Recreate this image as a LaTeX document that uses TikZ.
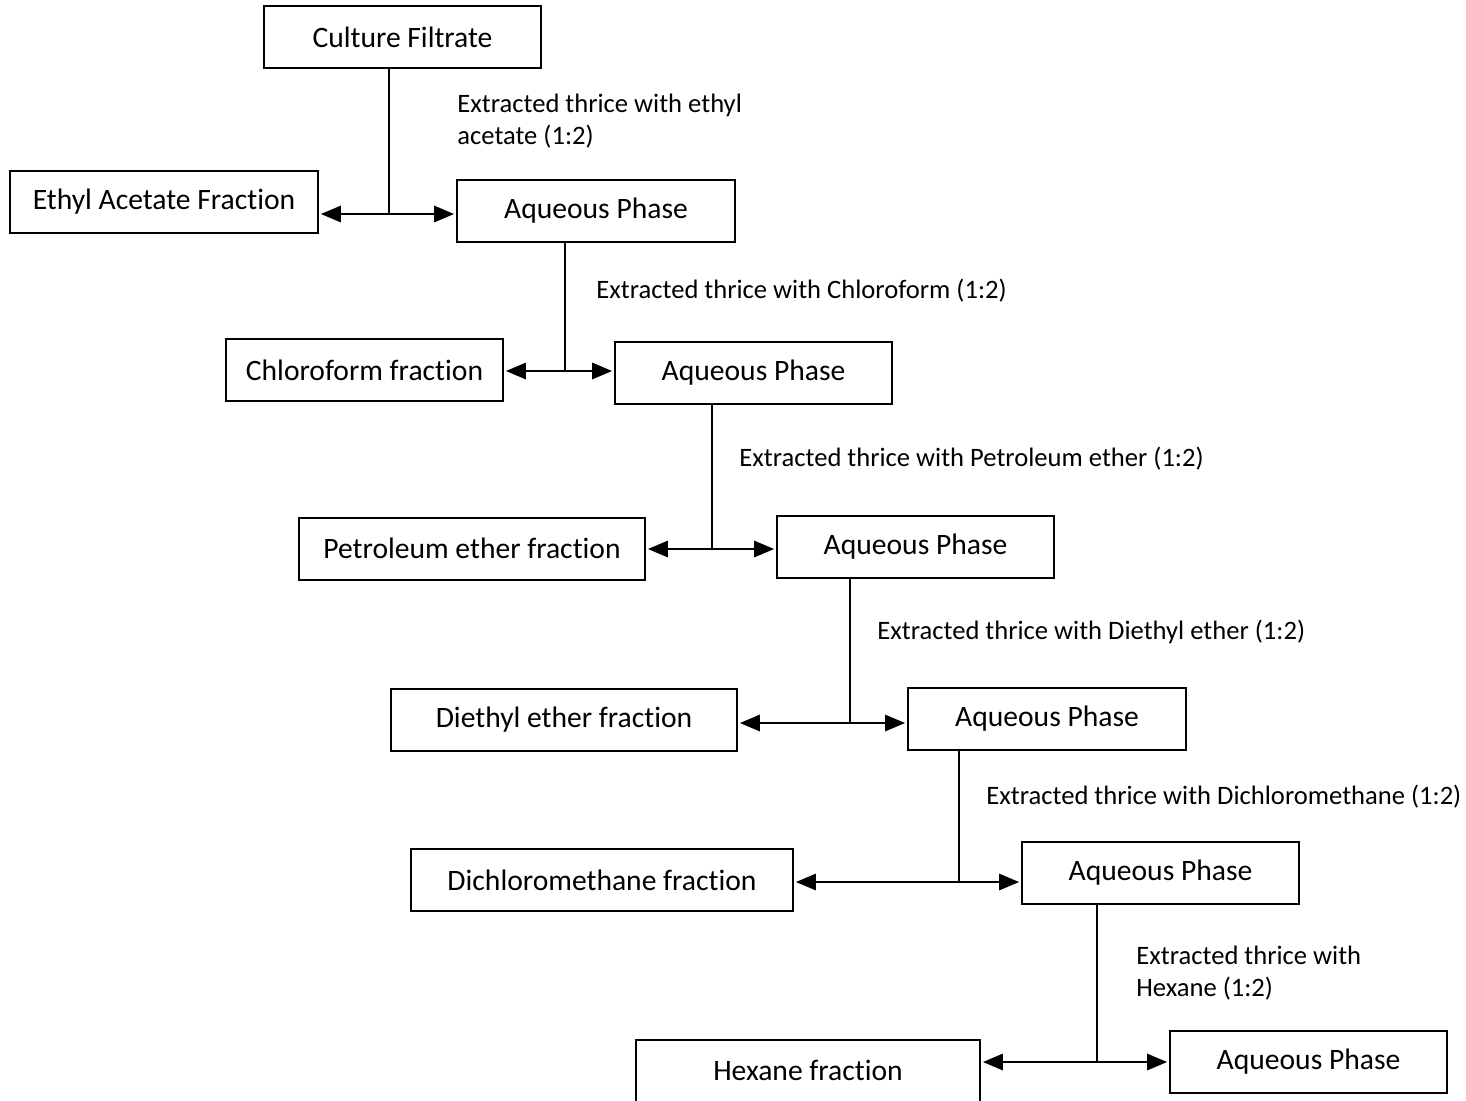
\documentclass[tikz,border=0pt]{standalone}
\usepackage{fontspec}
\setmainfont{Carlito}[Ligatures=NoCommon]
\usetikzlibrary{arrows}

\begin{document}
\begin{tikzpicture}[>=triangle 45,x=0.5pt,y=-0.5pt,
		box/.style={draw,line width=1pt,inner sep=0pt,minimum height=31pt,font=\fontsize{14.8}{17}\selectfont},
		note/.style={anchor=west,align=left,inner sep=0pt,font=\fontsize{13.3}{16}\selectfont},
		link/.style={line width=0.8pt},
		split/.style={->,line width=1.3pt,shorten >=1pt}]
	\useasboundingbox (0,0) rectangle (1466,1100);

	% boxes
	\node[box,minimum width=138.5pt] (cf) at (402.5,37) {Culture Filtrate};
	\node[box,minimum width=154pt] (ea) at (164,201.5) {Ethyl Acetate Fraction};
	\node[box,minimum width=139pt] (aq1) at (596,211) {Aqueous Phase};
	\node[box,minimum width=138.5pt] (cl) at (364.5,370) {Chloroform fraction};
	\node[box,minimum width=138.5pt] (aq2) at (753.5,372.5) {Aqueous Phase};
	\node[box,minimum width=173pt] (pe) at (472,548.5) {Petroleum ether fraction};
	\node[box,minimum width=138.5pt] (aq3) at (915.5,547) {Aqueous Phase};
	\node[box,minimum width=173pt] (de) at (564,720) {Diethyl ether fraction};
	\node[box,minimum width=139pt] (aq4) at (1047,719) {Aqueous Phase};
	\node[box,minimum width=191pt] (dcm) at (602,880) {Dichloromethane fraction};
	\node[box,minimum width=138.5pt] (aq5) at (1160.5,873) {Aqueous Phase};
	\node[box,minimum width=172pt] (hx) at (808,1070.5) {Hexane fraction};
	\node[box,minimum width=138.5pt] (aq6) at (1308.5,1062) {Aqueous Phase};

	% split points
	\coordinate (j1) at (389,214);
	\coordinate (j2) at (565,371);
	\coordinate (j3) at (712,549);
	\coordinate (j4) at (850,723);
	\coordinate (j5) at (959,882);
	\coordinate (j6) at (1097,1062);

	\draw[link] (cf.south -| j1) -- (j1);
	\draw[link] (aq1.south -| j2) -- (j2);
	\draw[link] (aq2.south -| j3) -- (j3);
	\draw[link] (aq3.south -| j4) -- (j4);
	\draw[link] (aq4.south -| j5) -- (j5);
	\draw[link] (aq5.south -| j6) -- (j6);

	\draw[split] (j1) -- (ea.east |- j1);
	\draw[split] (j1) -- (aq1.west |- j1);
	\draw[split] (j2) -- (cl.east |- j2);
	\draw[split] (j2) -- (aq2.west |- j2);
	\draw[split] (j3) -- (pe.east |- j3);
	\draw[split] (j3) -- (aq3.west |- j3);
	\draw[split] (j4) -- (de.east |- j4);
	\draw[split] (j4) -- (aq4.west |- j4);
	\draw[split] (j5) -- (dcm.east |- j5);
	\draw[split] (j5) -- (aq5.west |- j5);
	\draw[split] (j6) -- (hx.east |- j6);
	\draw[split] (j6) -- (aq6.west |- j6);

	% solvent labels
	\node[note] (n1) at (457,121) {Extracted thrice with ethyl\\acetate (1:2)};
	\node[note] (n2) at (596,291) {Extracted thrice with Chloroform (1:2)};
	\node[note] (n3) at (739,459) {Extracted thrice with Petroleum ether (1:2)};
	\node[note] (n4) at (877,632) {Extracted thrice with Diethyl ether (1:2)};
	\node[note] (n5) at (986,797) {Extracted thrice with Dichloromethane (1:2)};
	\node[note] (n6) at (1136,973.5) {Extracted thrice with\\Hexane (1:2)};
\end{tikzpicture}
\end{document}
